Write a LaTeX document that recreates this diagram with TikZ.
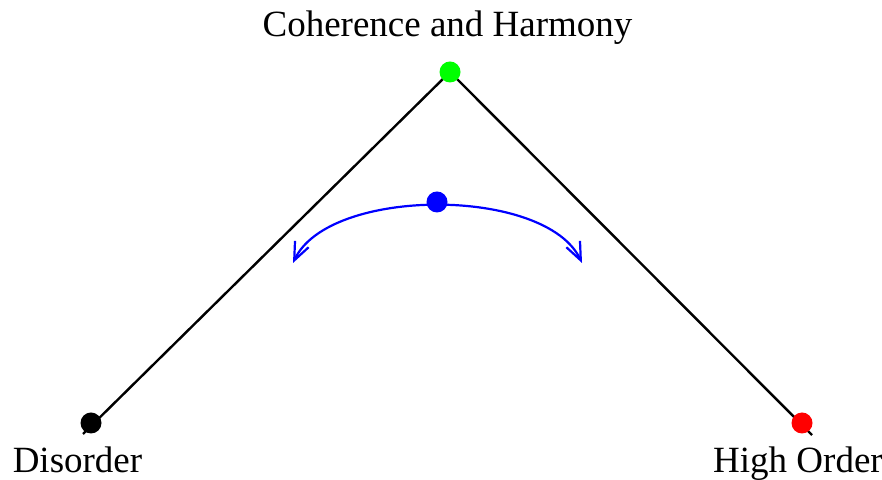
\documentclass[tikz,border=0pt]{standalone}
\usepackage{fontspec}
\setmainfont{Liberation Serif}
\usetikzlibrary{arrows.meta}
\definecolor{dot-green}{RGB}{0,255,0}
\definecolor{dot-red}{RGB}{255,0,0}
\definecolor{dot-blue}{RGB}{0,0,255}

\begin{document}
\begin{tikzpicture}[
    x=0.5pt, y=0.5pt, % one unit per pixel of the sketch
    font=\fontsize{18.5}{22}\selectfont
  ]

  % Global Style Definitions
  \tikzset{
    dot/.style={circle, inner sep=0pt, minimum size=10.5pt},
    label/.style={anchor=base, inner sep=0pt},
    ridge/.style={draw=black, line width=1.2pt},
    swing/.style={draw=dot-blue, line width=1.1pt, {Straight Barb[length=9pt, width=7.5pt]}-{Straight Barb[length=9pt, width=7.5pt]}}
  }

  \useasboundingbox (0,0) rectangle (882,480);

  % Line ends and peak
  \coordinate (lowleft) at (83,46);
  \coordinate (peak) at (450,408);
  \coordinate (lowright) at (812,45);

  % The ridge
  \draw[ridge] (lowleft) -- (peak) -- (lowright);

  % Dots
  \node (disorder) [dot, fill=black] at (91,57) {};
  \node (order) [dot, fill=dot-red] at (802,57) {};
  \node (harmony) [dot, fill=dot-green] at (peak) {};

  % Swinging ball
  \coordinate (swingleft) at (293,217);
  \coordinate (swingright) at (582,217);
  \draw[swing] (swingleft) to[out=65, in=115, looseness=0.75] (swingright);
  \node (ball) [dot, fill=dot-blue] at (437,278) {};

  % Labels
  \node (harmonytext) [label] at (447.5,443) {Coherence and Harmony};
  \node (disordertext) [label] at (77.5,7) {Disorder};
  \node (ordertext) [label] at (798,7) {High Order};

\end{tikzpicture}
\end{document}
